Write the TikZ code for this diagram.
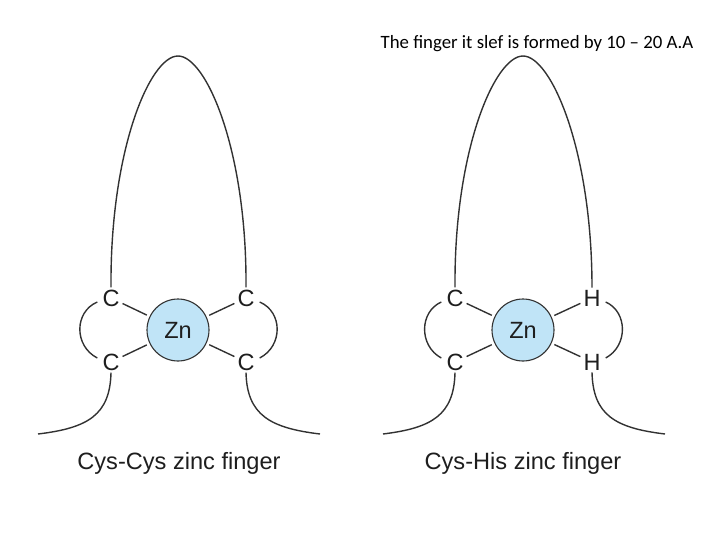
\documentclass[tikz,border=0pt]{standalone}
\usepackage{fontspec}
\setmainfont{Liberation Sans}
\newfontfamily\calibfont{Carlito}
\definecolor{znblue}{RGB}{192,228,247}
\definecolor{linegray}{RGB}{50,50,50}
\definecolor{txt}{RGB}{30,30,30}
\begin{document}
\begin{tikzpicture}[x=1pt,y=-1pt,
  chain/.style={draw=linegray, line width=1.4pt},
  bond/.style={draw=linegray, line width=1.4pt, shorten <=1pt, shorten >=3pt},
  atom/.style={inner sep=2pt, font=\fontsize{23.5}{23.5}\selectfont, text=txt},
  zinc/.style={circle, minimum size=62pt, inner sep=0pt, fill=znblue, draw=linegray, line width=1.1pt, font=\fontsize{23.5}{23.5}\selectfont, text=txt},
  caption/.style={font=\fontsize{23.6}{23.6}\selectfont, text=txt}]
\useasboundingbox (0,0) rectangle (720,540);

% ---------- Cys-Cys ----------
\node[zinc] (zn1) at (178,330) {Zn};
\node[atom] (a1) at (111,298) {C};
\node[atom] (a2) at (246,298) {C};
\node[atom] (a3) at (111,362) {C};
\node[atom] (a4) at (246,362) {C};
\coordinate (t1) at (38,434);
\coordinate (t2) at (320,434);
\draw[chain] (a1.north) .. controls (110,150) and (150,56) .. (178,56)
             .. controls (206,56) and (247,150) .. (a2.north);
\draw[bond] (a1) -- (zn1);
\draw[bond] (a3) -- (zn1);
\draw[bond] (a2) -- (zn1);
\draw[bond] (a4) -- (zn1);
\draw[chain] ([xshift=-3pt,yshift=-4pt]a1.west) .. controls (74,312) and (74,346) .. ([xshift=-3pt,yshift=4pt]a3.west);
\draw[chain] ([xshift=3pt,yshift=-4pt]a2.east) .. controls (283,312) and (283,346) .. ([xshift=3pt,yshift=4pt]a4.east);
\draw[chain] (a3.south) .. controls (110,415) and (88,428) .. (t1);
\draw[chain] (a4.south) .. controls (247,415) and (270,428) .. (t2);
\node[caption] (cap1) at (179,463) {Cys-Cys zinc finger};

% ---------- Cys-His ----------
\node[zinc] (zn2) at (523,330) {Zn};
\node[atom] (b1) at (455,298) {C};
\node[atom] (b2) at (592,298) {H};
\node[atom] (b3) at (455,362) {C};
\node[atom] (b4) at (592,362) {H};
\coordinate (t3) at (383,434);
\coordinate (t4) at (665,434);
\draw[chain] (b1.north) .. controls (454,150) and (495,56) .. (523,56)
             .. controls (551,56) and (592,150) .. (b2.north);
\draw[bond] (b1) -- (zn2);
\draw[bond] (b3) -- (zn2);
\draw[bond] (b2) -- (zn2);
\draw[bond] (b4) -- (zn2);
\draw[chain] ([xshift=-3pt,yshift=-4pt]b1.west) .. controls (419,312) and (419,346) .. ([xshift=-3pt,yshift=4pt]b3.west);
\draw[chain] ([xshift=3pt,yshift=-4pt]b2.east) .. controls (628,312) and (628,346) .. ([xshift=3pt,yshift=4pt]b4.east);
\draw[chain] (b3.south) .. controls (454,415) and (432,428) .. (t3);
\draw[chain] (b4.south) .. controls (593,415) and (615,428) .. (t4);
\node[caption] (cap2) at (523,463) {Cys-His zinc finger};

% ---------- title ----------
\node[font=\calibfont\fontsize{18.8}{18.8}\selectfont, text=black] (title) at (537,44) {The finger it slef is formed by 10 – 20 A.A};
\end{tikzpicture}
\end{document}
